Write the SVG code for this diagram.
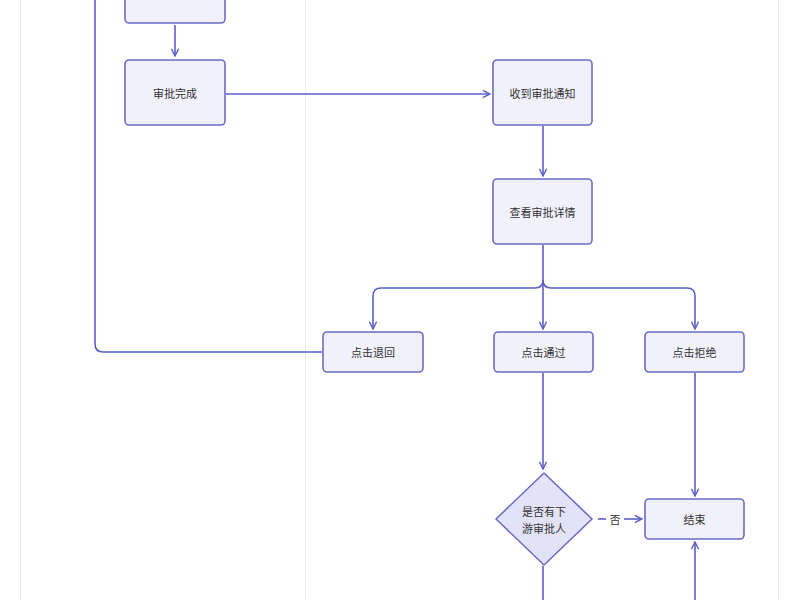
<svg xmlns="http://www.w3.org/2000/svg" width="800" height="600" viewBox="0 0 800 600">
<style>
.n{fill:#f1f1fb;stroke:#6a6cc6;stroke-width:1.6}
.t{font-family:"Noto Sans CJK SC","Noto Sans",sans-serif;font-size:11px;fill:#333;text-anchor:middle;dominant-baseline:central}
.c{fill:none;stroke:#5b5fc7;stroke-width:1.6}
.lane{stroke:#ececf0;stroke-width:1}
</style>
<defs><marker id="a" viewBox="0 0 10 10" refX="9" refY="5" markerWidth="9" markerHeight="9" orient="auto" markerUnits="userSpaceOnUse"><path d="M1,1 L9,5 L1,9" fill="none" stroke="#5b5fc7" stroke-width="1.6"/></marker></defs>
<rect width="800" height="600" fill="#fff"/>
<line class="lane" x1="20.5" y1="0" x2="20.5" y2="600"/>
<line class="lane" x1="305.5" y1="0" x2="305.5" y2="600"/>
<line class="lane" x1="778.5" y1="0" x2="778.5" y2="600"/>
<g id="connectors">
<path class="c" d="M175,25 V56" marker-end="url(#a)"/>
<path class="c" d="M226,94 H490" marker-end="url(#a)"/>
<path class="c" d="M543,126 V176" marker-end="url(#a)"/>
<path class="c" d="M543,245 V329" marker-end="url(#a)"/>
<path class="c" d="M543,280 Q543,288 535,288 H381 Q373,288 373,296 V329" marker-end="url(#a)"/>
<path class="c" d="M543,280 Q543,288 551,288 H687 Q695,288 695,296 V329" marker-end="url(#a)"/>
<path class="c" d="M322,352 H103 Q95,352 95,344 V0"/>
<path class="c" d="M543,373 V469" marker-end="url(#a)"/>
<path class="c" d="M695,373 V496" marker-end="url(#a)"/>
<path class="c" d="M598,519 H606"/>
<path class="c" d="M624,519 H642" marker-end="url(#a)"/>
<text class="t" x="615" y="519">否</text>
<path class="c" d="M543,566 V600"/>
<path class="c" d="M695,600 V542" marker-end="url(#a)"/>
</g>
<g id="n0"><rect class="n" x="125" y="-10" width="100" height="33" rx="4"/></g>
<g id="n1"><rect class="n" x="125" y="60" width="100" height="65" rx="4"/><text class="t" x="175" y="93">审批完成</text></g>
<g id="n2"><rect class="n" x="493" y="60" width="99" height="65" rx="4"/><text class="t" x="542.5" y="93">收到审批通知</text></g>
<g id="n3"><rect class="n" x="493" y="179" width="99" height="65" rx="4"/><text class="t" x="542.5" y="212">查看审批详情</text></g>
<g id="n4"><rect class="n" x="323" y="332" width="100" height="40" rx="4"/><text class="t" x="373" y="352">点击退回</text></g>
<g id="n5"><rect class="n" x="494" y="332" width="99" height="40" rx="4"/><text class="t" x="543.5" y="352">点击通过</text></g>
<g id="n6"><rect class="n" x="645" y="332" width="99" height="40" rx="4"/><text class="t" x="694.5" y="352">点击拒绝</text></g>
<g id="n7"><path class="n" d="M544,473 L592,519 L544,565 L496,519 Z" style="fill:#e3e3f7" stroke-linejoin="round"/><text class="t" x="544" y="511">是否有下</text><text class="t" x="544" y="528">游审批人</text></g>
<g id="n8"><rect class="n" x="645" y="499" width="99" height="40" rx="4"/><text class="t" x="694.5" y="519">结束</text></g>
</svg>
